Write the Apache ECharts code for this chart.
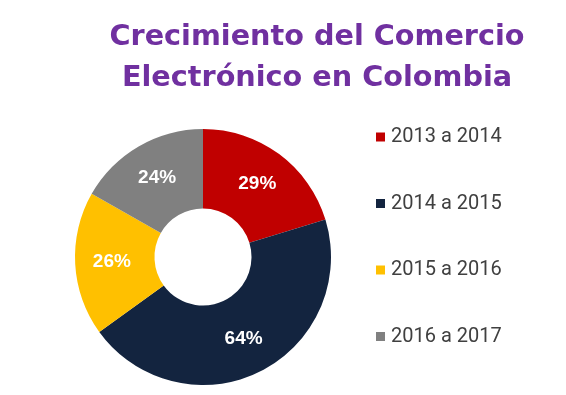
<!DOCTYPE html>
<html><head><meta charset="utf-8">
<script src="https://cdn.jsdelivr.net/npm/echarts@6/dist/echarts.min.js"></script>
<style>html,body{margin:0;padding:0;background:#fff}#c{width:566px;height:395px}</style>
</head><body><div id="c"></div>
<script>
const categories = ['2013 a 2014', '2014 a 2015', '2015 a 2016', '2016 a 2017'];
const values = [29, 64, 26, 24];
const labels = ['29%', '64%', '26%', '24%'];
const colors = ['#C00000', '#13243F', '#FFC000', '#808080'];

const chart = echarts.init(document.getElementById('c'));
chart.setOption({
  animation: false,
  title: {
    text: 'Crecimiento del Comercio\nElectrónico en Colombia',
    left: 312, top: 12, textAlign: 'center',
    textStyle: { color: '#7030A0', fontFamily: 'DejaVu Sans', fontWeight: 'bold', fontSize: 28.7, lineHeight: 41 }
  },
  legend: {
    orient: 'vertical', left: 371, top: 122,
    itemWidth: 9, itemHeight: 9, itemGap: 46.5,
    icon: 'rect',
    data: categories,
    textStyle: { color: '#404040', fontFamily: 'Roboto', fontSize: 20, padding: [0, 0, 0, 1] }
  },
  series: [{
    type: 'pie',
    center: [203, 257],
    radius: [48.5, 128],
    startAngle: 90,
    clockwise: true,
    data: categories.map((c, i) => ({ name: c, value: values[i], itemStyle: { color: colors[i] } })),
    label: {
      position: 'inside',
      formatter: p => labels[p.dataIndex],
      color: '#fff', fontWeight: 'bold', fontFamily: 'Liberation Sans', fontSize: 19
    },
    labelLine: { show: false },
    itemStyle: { borderWidth: 0 },
    emphasis: { disabled: true }
  }]
});
</script></body></html>
